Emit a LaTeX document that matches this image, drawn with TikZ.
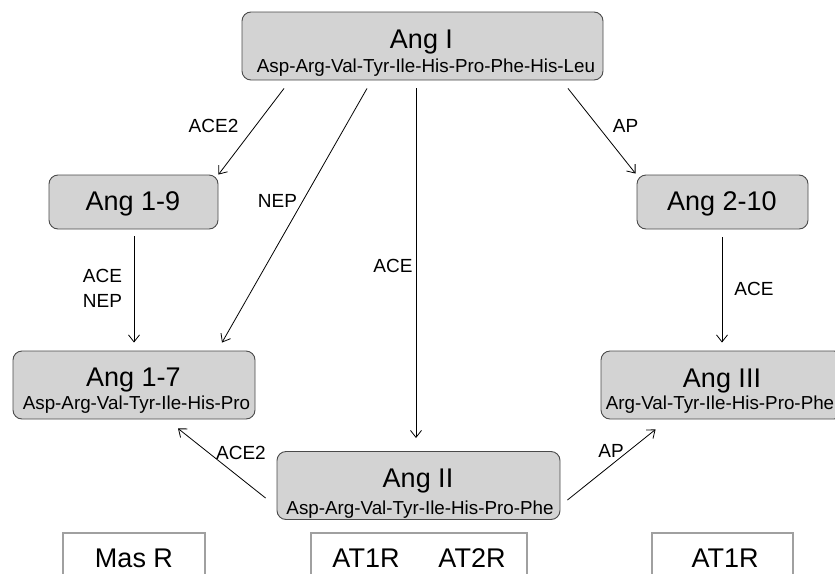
\documentclass[tikz,border=0pt]{standalone}
\usepackage{fontspec}
\setmainfont{Liberation Sans}
\usetikzlibrary{arrows.meta}
\definecolor{boxfill}{HTML}{D3D3D3}
\definecolor{boxline}{HTML}{4A4A4A}
\definecolor{recline}{HTML}{A0A0A0}
\tikzset{
  pepbox/.style={draw=boxline, fill=boxfill, rounded corners=9pt, line width=0.9pt, inner sep=0pt},
  recbox/.style={draw=recline, line width=1.1pt, inner sep=0pt},
  ttl/.style={font=\fontsize{27}{27}\selectfont, anchor=base, inner sep=0pt},
  seq/.style={font=\fontsize{18.8}{18.8}\selectfont, anchor=base, inner sep=0pt},
  lbl/.style={font=\fontsize{19}{19}\selectfont, anchor=base, inner sep=0pt},
  arr/.style={-{Straight Barb[length=7pt,width=11pt]}, line width=0.8pt}
}
\begin{document}
\begin{tikzpicture}[x=1pt,y=-1pt]
\useasboundingbox (0,0) rectangle (835,573);
\clip (0,0) rectangle (835,573);
% peptide boxes
\node[pepbox, minimum width=361pt, minimum height=68pt] (AngI) at (422.5,46) {};
\node[pepbox, minimum width=169pt, minimum height=54pt] (Ang19) at (133.5,202) {};
\node[pepbox, minimum width=171pt, minimum height=54pt] (Ang210) at (722.5,202) {};
\node[pepbox, minimum width=242pt, minimum height=68pt] (Ang17) at (134,385) {};
\node[pepbox, minimum width=242pt, minimum height=68pt] (Ang3) at (722,385) {};
\node[pepbox, minimum width=283pt, minimum height=68pt] (Ang2) at (418.5,485.5) {};
% receptor boxes
\node[recbox, minimum width=142pt, minimum height=67pt] (MasR) at (134,566.5) {};
\node[recbox, minimum width=216pt, minimum height=67pt] (AT12) at (419,566.5) {};
\node[recbox, minimum width=141pt, minimum height=67pt] (AT1) at (722.5,566.5) {};
% texts
\node[ttl] (tI) at (421.5,48) {Ang I};
\node[seq] (sI) at (426,72) {Asp-Arg-Val-Tyr-Ile-His-Pro-Phe-His-Leu};
\node[ttl] (t19) at (133,210) {Ang 1-9};
\node[ttl] (t210) at (722,210) {Ang 2-10};
\node[ttl] (t17) at (133.5,386) {Ang 1-7};
\node[seq] (s17) at (136.5,409) {Asp-Arg-Val-Tyr-Ile-His-Pro};
\node[ttl] (t3) at (722,387) {Ang III};
\node[seq] (s3) at (720,409) {Arg-Val-Tyr-Ile-His-Pro-Phe};
\node[ttl] (t2) at (418,487) {Ang II};
\node[seq] (s2) at (420,514) {Asp-Arg-Val-Tyr-Ile-His-Pro-Phe};
\node[ttl] (tMas) at (134,567) {Mas R};
\node[ttl] (tAT1a) at (366,567) {AT1R};
\node[ttl] (tAT2) at (472,567) {AT2R};
\node[ttl] (tAT1b) at (725,567) {AT1R};
% arrows
\draw[arr] ([shift={(-138.5,8)}]AngI.south) -- (Ang19.north east);
\draw[arr] ([shift={(-55.5,8)}]AngI.south) -- ([shift={(88,-8)}]Ang17.north);
\draw[arr] ([shift={(-6.5,8)}]AngI.south) -- ([shift={(-2.5,-13)}]Ang2.north);
\draw[arr] ([shift={(145.5,8)}]AngI.south) -- ([shift={(-1,-1)}]Ang210.north west);
\draw[arr] ([shift={(0.5,7)}]Ang19.south) -- ([shift={(0,-8)}]Ang17.north);
\draw[arr] ([shift={(-0.5,8)}]Ang210.south) -- ([shift={(0,-8)}]Ang3.north);
\draw[arr] ([shift={(-11,12.5)}]Ang2.west) -- ([shift={(44,9)}]Ang17.south);
\draw[arr] ([shift={(7,14.5)}]Ang2.east) -- ([shift={(55,10)}]Ang3.south west);
% enzyme labels
\node[lbl] (l1) at (213.5,132) {ACE2};
\node[lbl] (l2) at (277.5,207) {NEP};
\node[lbl] (l3) at (393,272) {ACE};
\node[lbl] (l4) at (625.5,132) {AP};
\node[lbl] (l5) at (102.5,282) {ACE};
\node[lbl] (l6) at (102.5,307) {NEP};
\node[lbl] (l7) at (754,295) {ACE};
\node[lbl] (l8) at (241,459) {ACE2};
\node[lbl] (l9) at (611,457) {AP};
\end{tikzpicture}
\end{document}
